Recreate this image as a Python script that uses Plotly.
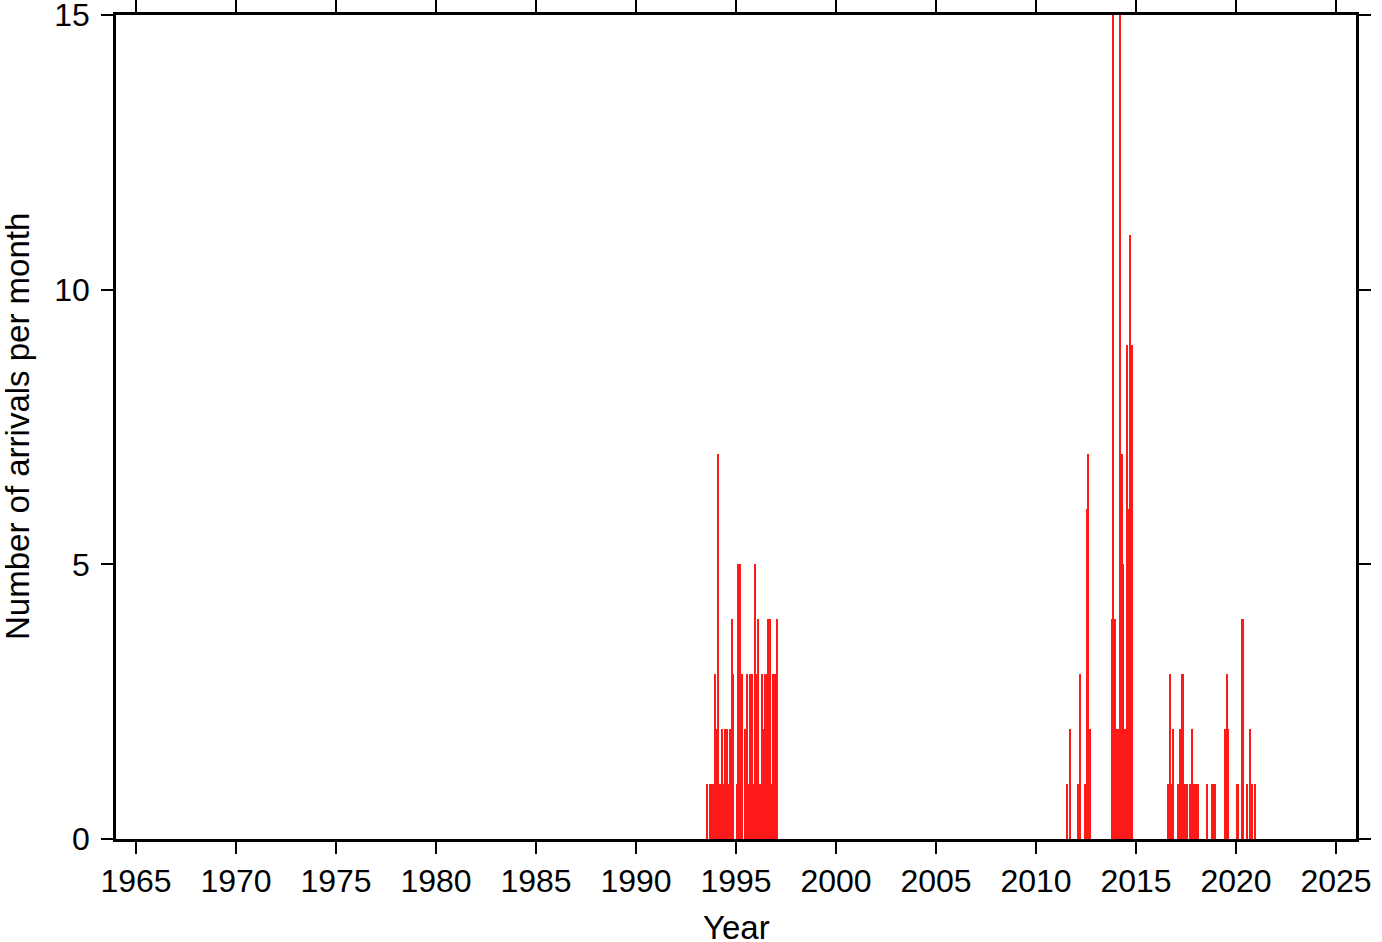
import plotly.graph_objects as go

# ---- data (monthly arrival counts) ----
cluster_starts = ["1993-07", "2011-07", "2013-10", "2016-08"]

counts_1993_1997 = [1, 0, 1, 1, 1, 3, 2, 7, 1, 2, 1, 2, 2, 1, 2, 4, 3, 0, 1, 5,
                    5, 3, 0, 2, 3, 1, 3, 3, 1, 5, 3, 4, 1, 3, 2, 3, 3, 4, 4, 1,
                    3, 3, 4]
counts_2011_2012 = [1, 0, 2, 0, 0, 0, 0, 1, 3, 0, 0, 1, 6, 7, 2]
counts_2013_2014 = [4, 16, 4, 2, 2, 16, 7, 5, 2, 9, 6, 11, 9]
counts_2016_2020 = [1, 3, 1, 2, 0,
                    0, 1, 2, 3, 3, 1, 1, 0, 1, 2, 1, 1,
                    1, 1, 0, 0, 0, 0, 1, 0, 0, 1, 1, 1,
                    0, 0, 0, 0, 0, 2, 3, 2, 0, 0, 0, 0,
                    1, 1, 0, 4, 4, 0, 1, 0, 2, 1, 0, 1]

year_ticks = list(range(1965, 2026, 5))
count_ticks = [0, 5, 10, 15]
x_title = "Year"
y_title = "Number of arrivals per month"

clusters = [counts_1993_1997, counts_2011_2012, counts_2013_2014, counts_2016_2020]

xs, ys = [], []
for start, vals in zip(cluster_starts, clusters):
    y0, m0 = map(int, start.split("-"))
    for i, v in enumerate(vals):
        idx = (m0 - 1) + i
        yr = y0 + idx // 12
        mo = idx % 12
        xs.append(yr + mo / 12 + 1 / 24)
        ys.append(v)

FONT = "Liberation Sans, Arial, Helvetica, sans-serif"
FS = 32

fig = go.Figure(go.Bar(
    x=xs, y=ys, width=1 / 12,
    marker=dict(color="#ff1a1a", line=dict(width=0)),
    hovertemplate="%{x:.2f}: %{y}<extra></extra>",
))

axis_common = dict(
    showline=True, linecolor="black", linewidth=2.5, mirror="ticks",
    ticks="outside", ticklen=12, tickwidth=1.5, tickcolor="black",
    showgrid=False, zeroline=False, automargin=False,
    ticklabeloverflow="allow",
    tickfont=dict(family=FONT, size=FS, color="black"),
)

fig.update_layout(
    width=1382, height=942,
    margin=dict(l=116, r=26, t=15, b=103),
    paper_bgcolor="white", plot_bgcolor="white",
    showlegend=False, bargap=0,
    font=dict(family=FONT, size=FS, color="black"),
    xaxis=dict(range=[1964, 2026], tickvals=year_ticks,
               ticktext=[str(t) for t in year_ticks], **axis_common),
    yaxis=dict(range=[0, 15], tickvals=count_ticks,
               ticktext=[str(t) for t in count_ticks],
               ticklabelstandoff=5, **axis_common),
    annotations=[
        dict(text=x_title, xref="paper", yref="paper", x=0.5, y=0,
             xanchor="center", yanchor="middle", yshift=-88, showarrow=False,
             font=dict(family=FONT, size=33, color="black")),
        dict(text=y_title, xref="paper", yref="paper", x=0, y=0.5,
             xanchor="center", yanchor="middle", xshift=-99, textangle=-90,
             showarrow=False, font=dict(family=FONT, size=33, color="black")),
    ],
)

fig.write_html("out.html", config={"displayModeBar": False},
               post_script="document.body.style.margin='0';")
